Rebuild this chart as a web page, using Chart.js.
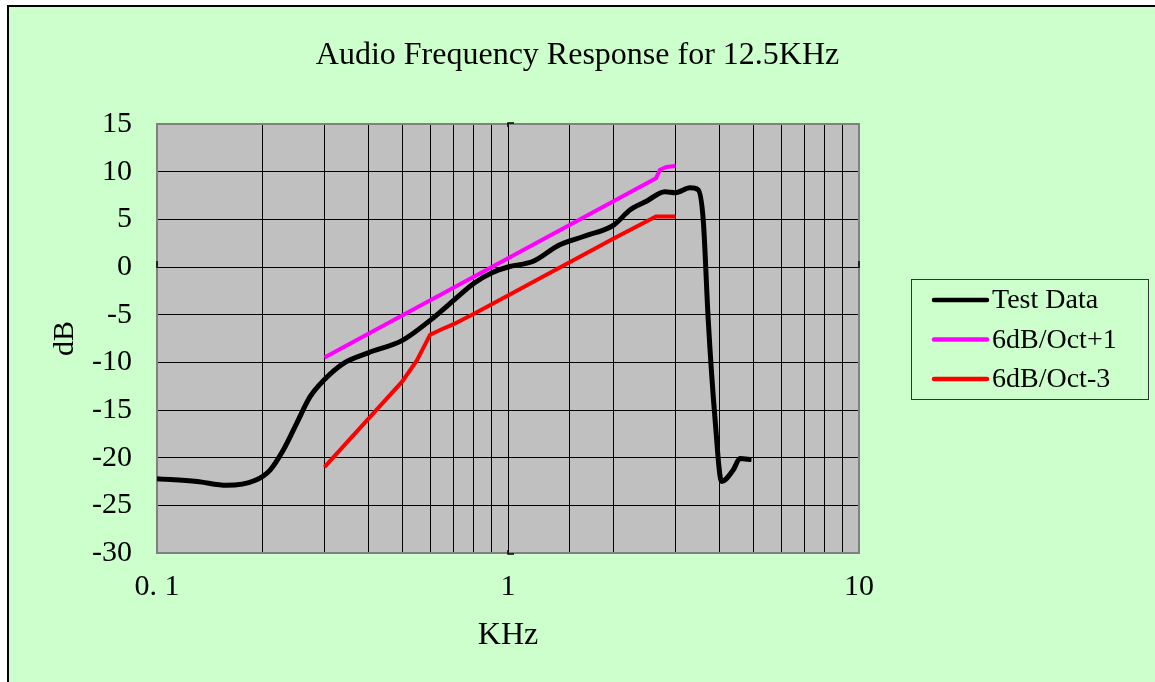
<!DOCTYPE html>
<html>
<head>
<meta charset="utf-8">
<script src="https://cdn.jsdelivr.net/npm/chart.js@4.4.1/dist/chart.umd.min.js"></script>
<style>
  html, body { margin: 0; padding: 0; background: #fff; }
  #wrap { width: 1155px; height: 682px; }
</style>
</head>
<body>
<div id="wrap"><canvas id="freqChart" width="1155" height="682"></canvas></div>
<script>
// values (frequency in KHz, level in dB)
const testFreq = [0.1, 0.13, 0.158, 0.19, 0.21, 0.229, 0.25, 0.273, 0.3, 0.34, 0.4, 0.5, 0.6, 0.7, 0.8, 0.9,
                  1.0, 1.18, 1.4, 1.64, 2.0, 2.23, 2.48, 2.8, 3.0, 3.3, 3.48, 3.6, 3.72, 3.89, 4.06, 4.38, 4.58, 4.94];
const testDb = [-22.2, -22.5, -22.9, -22.4, -21.3, -19.2, -16.4, -13.6, -11.8, -10.1, -9.0, -7.7, -5.6, -3.5, -1.7, -0.6,
                0.0, 0.6, 2.3, 3.2, 4.4, 6.0, 6.9, 7.9, 7.8, 8.3, 8.1, 4.9, -5.6, -16.0, -22.5, -21.3, -20.1, -20.2];

const plusFreq = [0.3, 2.64, 2.71, 2.83, 3.0];
const plusDb = [-9.5, 9.3, 10.2, 10.5, 10.6];

const minusFreq = [0.3, 0.5, 0.55, 0.6, 0.65, 0.7, 0.8, 1.0, 2.0, 2.64, 3.0];
const minusDb = [-21, -12, -9.8, -7.1, -6.5, -6.0, -4.9, -3.0, 3.0, 5.3, 5.3];

const xLabels = { 0.1: '0. 1', 1: '1', 10: '10' };
const seriesNames = ['Test Data', '6dB/Oct+1', '6dB/Oct-3'];
const seriesColors = ['#000000', '#FF00FF', '#FF0000'];

const serif = '"Liberation Serif", "Times New Roman", serif';

function toPoints(xs, ys) {
    return xs.map((x, i) => ({ x: x, y: ys[i] }));
}

// page background, frame, plot fill
const backdrop = {
    id: 'backdrop',
    beforeDraw(chart) {
        const ctx = chart.ctx;
        const a = chart.chartArea;
        ctx.save();
        ctx.fillStyle = '#ffffff';
        ctx.fillRect(0, 0, chart.width, chart.height);
        ctx.fillStyle = '#CCFFCC';
        ctx.fillRect(7, 5, chart.width - 7, chart.height - 5);
        ctx.fillStyle = '#000000';
        ctx.fillRect(7, 5, 2, chart.height - 5);
        ctx.fillRect(7, 5, chart.width - 7, 2);
        ctx.fillStyle = '#C0C0C0';
        ctx.fillRect(a.left, a.top, a.right - a.left, a.bottom - a.top);
        // title
        ctx.fillStyle = '#000000';
        ctx.font = '32px ' + serif;
        ctx.textAlign = 'center';
        ctx.textBaseline = 'alphabetic';
        ctx.fillText('Audio Frequency Response for 12.5KHz', chart.width / 2, 64);
        ctx.restore();
    },
    beforeDatasetsDraw(chart) {
        const ctx = chart.ctx;
        const a = chart.chartArea;
        const x1 = chart.scales.x.getPixelForValue(1);
        const y0 = chart.scales.y.getPixelForValue(0);
        ctx.save();
        ctx.strokeStyle = '#808080';
        ctx.lineWidth = 2;
        ctx.strokeRect(a.left, a.top, a.right - a.left, a.bottom - a.top);
        // little axis-crossing marks
        ctx.strokeStyle = '#000000';
        ctx.lineWidth = 1.5;
        ctx.beginPath();
        ctx.moveTo(x1 + 6, a.top - 1); ctx.lineTo(x1, a.top - 1); ctx.lineTo(x1, a.top + 3);
        ctx.moveTo(x1 + 6, a.bottom + 1); ctx.lineTo(x1, a.bottom + 1); ctx.lineTo(x1, a.bottom - 3);
        ctx.moveTo(a.left, y0 - 6); ctx.lineTo(a.left, y0 + 1);
        ctx.moveTo(a.right, y0 - 6); ctx.lineTo(a.right, y0 + 1);
        ctx.stroke();
        ctx.restore();
    },
    afterDraw(chart) {
        // legend box to the right of the plot
        const ctx = chart.ctx;
        const left = 911, top = 279, w = 237, h = 120;
        ctx.save();
        ctx.strokeStyle = '#333333';
        ctx.lineWidth = 1;
        ctx.strokeRect(left + 0.5, top + 0.5, w, h);
        ctx.font = '28px ' + serif;
        ctx.textAlign = 'left';
        ctx.textBaseline = 'middle';
        chart.data.datasets.forEach((ds, i) => {
            const y = top + 21 + i * 39.5;
            ctx.strokeStyle = ds.borderColor;
            ctx.lineWidth = 4.5;
            ctx.lineCap = 'round';
            ctx.beginPath();
            ctx.moveTo(934, y);
            ctx.lineTo(987, y);
            ctx.stroke();
            ctx.fillStyle = '#000000';
            ctx.fillText(ds.label, 992, y + 1);
        });
        ctx.restore();
    }
};

const chart = new Chart(document.getElementById('freqChart'), {
    type: 'line',
    data: {
        datasets: [{
            label: seriesNames[0],
            data: toPoints(testFreq, testDb),
            borderColor: seriesColors[0],
            borderWidth: 5,
            cubicInterpolationMode: 'monotone',
            pointRadius: 0,
            fill: false
        }, {
            label: seriesNames[1],
            data: toPoints(plusFreq, plusDb),
            borderColor: seriesColors[1],
            borderWidth: 4,
            tension: 0,
            pointRadius: 0,
            fill: false
        }, {
            label: seriesNames[2],
            data: toPoints(minusFreq, minusDb),
            borderColor: seriesColors[2],
            borderWidth: 4,
            tension: 0,
            pointRadius: 0,
            fill: false
        }]
    },
    plugins: [backdrop],
    options: {
        responsive: false,
        animation: false,
        layout: { padding: { top: 124, right: 296, left: 0, bottom: 0 } },
        plugins: {
            legend: { display: false },
            tooltip: { enabled: false },
            title: { display: false }
        },
        scales: {
            x: {
                type: 'logarithmic',
                position: 'bottom',
                min: 0.1,
                max: 10,
                afterFit: (scale) => { scale.height = 129; },
                border: { display: false },
                grid: { color: '#000000', lineWidth: 1, drawTicks: false },
                ticks: {
                    autoSkip: false,
                    maxRotation: 0,
                    padding: 16,
                    color: '#000000',
                    font: { family: serif, size: 30 },
                    callback: (value) => {
                        for (const k in xLabels) {
                            if (Math.abs(value - Number(k)) < 1e-9) return xLabels[k];
                        }
                        return '';
                    }
                },
                title: {
                    display: true,
                    text: 'KHz',
                    color: '#000000',
                    font: { family: serif, size: 32 },
                    padding: { top: 0, bottom: 27 }
                }
            },
            y: {
                min: -30,
                max: 15,
                afterFit: (scale) => { scale.width = 157; },
                border: { display: false },
                grid: { color: '#000000', lineWidth: 1, drawTicks: false },
                ticks: {
                    stepSize: 5,
                    padding: 25,
                    color: '#000000',
                    font: { family: serif, size: 30 }
                },
                title: {
                    display: true,
                    text: 'dB',
                    color: '#000000',
                    font: { family: serif, size: 30 },
                    padding: { top: 47, bottom: 0 }
                }
            }
        }
    }
});
</script>
</body>
</html>
